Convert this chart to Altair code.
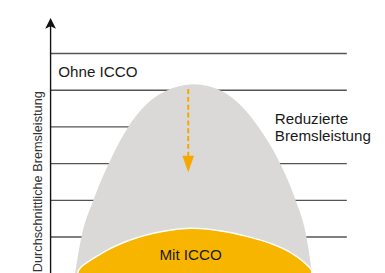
import altair as alt
import pandas as pd

# --- data (chart units: 1 unit = one gridline step) ---
grid_levels = [1, 2, 3, 4, 5, 6]
grid_ends = [8.07, 8.07, 8.07, 3.5, 8.07, 8.07]

gray_x = [0.63, 0.68, 0.84, 1.16, 1.56, 2.09, 3.08, 3.91, 4.71, 5.69, 6.28, 6.68, 6.97, 7.11, 7.15]
gray_y = [-0.23, 0.09, 1.0, 1.99, 2.95, 3.96, 4.95, 5.16, 4.95, 3.96, 2.95, 1.99, 1.0, 0.09, -0.23]

yellow_x = [0.71, 0.76, 1.03, 1.29, 1.56, 2.17, 3.08, 3.83, 4.31, 5.21, 6.09, 6.55, 6.97, 7.11, 7.13]
yellow_y = [-0.23, 0.09, 0.33, 0.49, 0.65, 0.92, 1.16, 1.24, 1.21, 1.05, 0.79, 0.57, 0.25, 0.09, -0.23]

axis_bottom = -0.23
axis_top = 6.79
axis_head = 6.82

drop_x = 3.75
drop_start = 5.03
drop_end = 3.16
drop_head = 2.99

labels = ["Ohne ICCO", "Reduzierte", "Bremsleistung", "Mit ICCO"]
label_x = [0.21, 6.11, 6.11, 2.965]
label_y = [5.355, 4.067, 3.613, 0.368]

y_title = "Durchschnittliche Bremsleistung"
y_title_x = -0.227
y_title_y = 4.973

FONT = "Liberation Sans"
X_DOM = [-1.16, 8.893]
Y_DOM = [-0.173, 7.16]

xs = alt.Scale(domain=X_DOM, nice=False, zero=False)
ys = alt.Scale(domain=Y_DOM, nice=False, zero=False)

grid_df = pd.DataFrame({"y": grid_levels, "x": [0] * len(grid_levels), "x2": grid_ends})
grid = alt.Chart(grid_df).mark_rule(color="#555555", strokeWidth=1.4).encode(
    x=alt.X("x:Q", scale=xs, axis=None), x2="x2:Q", y=alt.Y("y:Q", scale=ys, axis=None)
)

gray_df = pd.DataFrame({"x": gray_x, "y": gray_y})
gray = alt.Chart(gray_df).mark_area(fill="#dad9d8", interpolate="monotone", clip=True).encode(
    x=alt.X("x:Q", scale=xs, axis=None), y=alt.Y("y:Q", scale=ys, axis=None, stack=None)
)

yel_df = pd.DataFrame({"x": yellow_x, "y": yellow_y})
yellow = alt.Chart(yel_df).mark_area(fill="#f7b500", stroke="white", strokeWidth=1.5,
                                       interpolate="monotone", clip=True).encode(
    x=alt.X("x:Q", scale=xs, axis=None), y=alt.Y("y:Q", scale=ys, axis=None, stack=None)
)

axis_df = pd.DataFrame({"x": [0], "y": [axis_bottom], "y2": [axis_top]})
axis_line = alt.Chart(axis_df).mark_rule(color="#111111", strokeWidth=1.4, clip=True).encode(
    x=alt.X("x:Q", scale=xs, axis=None), y=alt.Y("y:Q", scale=ys, axis=None), y2="y2:Q"
)
head_df = pd.DataFrame({"x": [0], "y": [axis_head]})
axis_arrow = alt.Chart(head_df).mark_point(
    shape="M0,-1L1,1L0,0.55L-1,1Z", size=121, filled=True, color="#111111", opacity=1
).encode(x=alt.X("x:Q", scale=xs, axis=None), y=alt.Y("y:Q", scale=ys, axis=None))

drop_df = pd.DataFrame({"x": [drop_x], "y": [drop_start], "y2": [drop_end]})
drop_line = alt.Chart(drop_df).mark_rule(color="#f5a800", strokeWidth=2, strokeDash=[5, 3]).encode(
    x=alt.X("x:Q", scale=xs, axis=None), y=alt.Y("y:Q", scale=ys, axis=None), y2="y2:Q"
)
drop_head_df = pd.DataFrame({"x": [drop_x], "y": [drop_head]})
drop_arrow = alt.Chart(drop_head_df).mark_point(
    shape="M-0.7,-1L0.7,-1L0,1Z", size=289, filled=True, color="#f5a800", opacity=1
).encode(x=alt.X("x:Q", scale=xs, axis=None), y=alt.Y("y:Q", scale=ys, axis=None))

lab_df = pd.DataFrame({"t": labels, "x": label_x, "y": label_y})
texts = alt.Chart(lab_df).mark_text(
    font=FONT, fontSize=15.5, color="#1a1a1a", align="left", baseline="alphabetic"
).encode(x=alt.X("x:Q", scale=xs, axis=None), y=alt.Y("y:Q", scale=ys, axis=None), text="t:N")

yt_df = pd.DataFrame({"t": [y_title], "x": [y_title_x], "y": [y_title_y]})
ytitle = alt.Chart(yt_df).mark_text(
    font=FONT, fontSize=13, color="#333333", align="right", baseline="alphabetic", angle=270
).encode(x=alt.X("x:Q", scale=xs, axis=None), y=alt.Y("y:Q", scale=ys, axis=None), text="t:N")

chart = alt.layer(
    grid, gray, yellow, axis_line, axis_arrow, drop_line, drop_arrow, texts, ytitle
).properties(width=377, height=275, padding=0, autosize=alt.AutoSizeParams(type="none")).configure_view(stroke=None)

chart.save("out.html", embed_options={"renderer": "svg", "actions": False})
